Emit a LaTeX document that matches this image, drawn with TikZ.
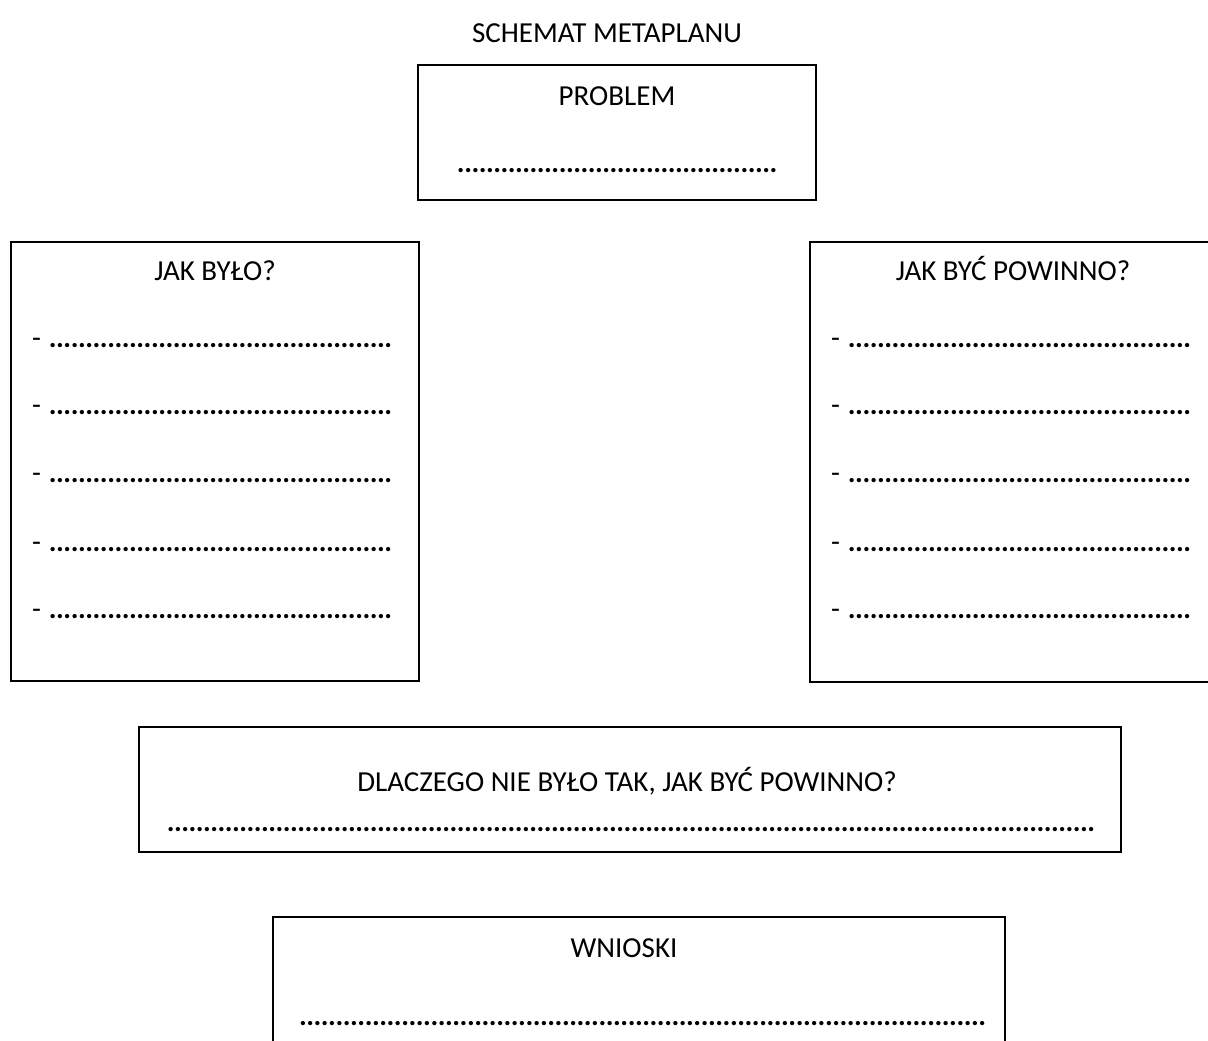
\documentclass[tikz,border=0pt]{standalone}
\usepackage{fontspec}
\setmainfont{Carlito}
\newcommand\dotrow[1]{\makebox[#1][l]{\xleaders\hbox to 7.25pt{\hss\textbf{.}\hss}\hfill}}
\begin{document}
\begin{tikzpicture}[x=1pt,y=-1pt,
  box/.style={draw=black,line width=1.8pt,inner sep=0pt},
  txt/.style={inner sep=0pt,anchor=base,font=\fontsize{29}{35}\selectfont},
  ltxt/.style={inner sep=0pt,anchor=base west,font=\fontsize{29}{35}\selectfont}]
\useasboundingbox (0,0) rectangle (1208,1041);
\fill[white] (0,0) rectangle (1208,1041);
% title
\node[txt] (title) at (607,43) {SCHEMAT METAPLANU};
% problem
\draw[box] (418,65) rectangle (816,200) coordinate (pb);
\node[txt] (problem) at (617,105) {PROBLEM};
\node[ltxt] (pdots) at (457,172) {\dotrow{320pt}};
% left box
\draw[box] (11,242) rectangle (419,681);
\node[txt] (jak) at (215,280) {JAK BYŁO?};
\foreach \y [count=\i] in {347,414,482,551,618}{
  \node[ltxt] (ld\i) at (32,\y) {-\hspace{8pt}\dotrow{343pt}};
}
% right box
\draw[box] (810,242) rectangle (1219,682);
\node[txt] (jakp) at (1013,280) {JAK BYĆ POWINNO?};
\foreach \y [count=\i] in {347,414,482,551,618}{
  \node[ltxt] (rd\i) at (831,\y) {-\hspace{8pt}\dotrow{343pt}};
}
% middle box
\draw[box] (139,727) rectangle (1121,852);
\node[txt] (dlaczego) at (627,791) {DLACZEGO NIE BYŁO TAK, JAK BYĆ POWINNO?};
\node[ltxt] (mdots) at (167,831) {\dotrow{928pt}};
% bottom box
\draw[box] (273,917) rectangle (1005,1060);
\node[txt] (wnioski) at (624,957) {WNIOSKI};
\node[ltxt] (bdots) at (299,1025) {\dotrow{687pt}};
\end{tikzpicture}
\end{document}
